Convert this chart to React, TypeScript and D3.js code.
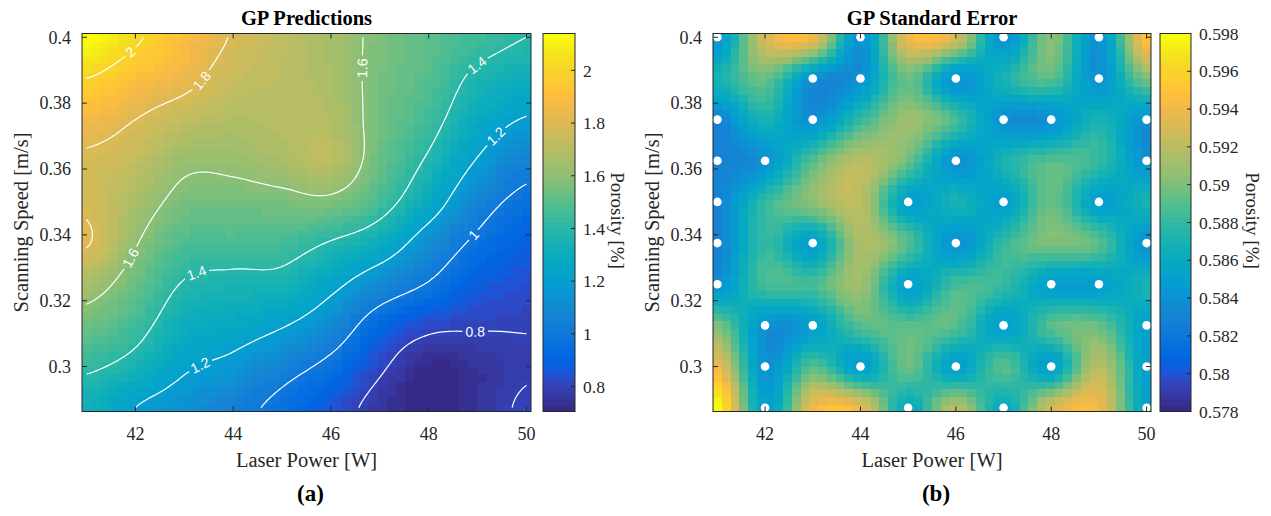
import React, { useMemo } from "react";
import * as d3 from "d3";

// ---------------- data ----------------
const laserPower = [41, 42, 43, 44, 45, 46, 47, 48, 49, 50];
// rows run from the top of the plot (0.4 m/s) down to 0.2875 m/s
const scanSpeedDesc = [0.4, 0.3875, 0.375, 0.3625, 0.35, 0.3375, 0.325, 0.3125, 0.3, 0.2875];

// GP predicted porosity [%]
const predRows = [
  [2.14, 2.02, 1.9, 1.79, 1.72, 1.66, 1.57, 1.51, 1.45, 1.4],
  [2.0, 1.91, 1.84, 1.74, 1.71, 1.67, 1.56, 1.49, 1.37, 1.31],
  [1.87, 1.8, 1.73, 1.69, 1.7, 1.69, 1.55, 1.45, 1.29, 1.19],
  [1.78, 1.73, 1.63, 1.63, 1.67, 1.71, 1.53, 1.38, 1.19, 1.06],
  [1.78, 1.67, 1.56, 1.55, 1.56, 1.57, 1.46, 1.28, 1.07, 0.96],
  [1.81, 1.61, 1.48, 1.47, 1.46, 1.39, 1.3, 1.12, 0.97, 0.89],
  [1.66, 1.53, 1.39, 1.36, 1.35, 1.24, 1.1, 0.99, 0.88, 0.84],
  [1.54, 1.45, 1.31, 1.27, 1.21, 1.1, 0.92, 0.83, 0.81, 0.805],
  [1.42, 1.35, 1.22, 1.16, 1.06, 0.96, 0.82, 0.72, 0.75, 0.79],
  [1.33, 1.2, 1.13, 1.05, 0.96, 0.86, 0.76, 0.705, 0.75, 0.815],
];

// GP standard error [%]
const stdRows = [
  [0.584, 0.593, 0.594, 0.584, 0.594, 0.593, 0.584, 0.5905, 0.584, 0.595],
  [0.587, 0.5895, 0.584, 0.584, 0.5895, 0.584, 0.587, 0.589, 0.584, 0.59],
  [0.583, 0.587, 0.584, 0.588, 0.591, 0.5885, 0.584, 0.584, 0.587, 0.584],
  [0.583, 0.584, 0.589, 0.592, 0.5895, 0.584, 0.587, 0.589, 0.588, 0.584],
  [0.583, 0.588, 0.5905, 0.592, 0.585, 0.587, 0.585, 0.5895, 0.585, 0.587],
  [0.583, 0.588, 0.585, 0.5915, 0.589, 0.584, 0.588, 0.590, 0.589, 0.584],
  [0.584, 0.5885, 0.5885, 0.591, 0.585, 0.5885, 0.588, 0.585, 0.585, 0.587],
  [0.59, 0.584, 0.585, 0.589, 0.589, 0.589, 0.585, 0.589, 0.5895, 0.585],
  [0.594, 0.584, 0.589, 0.585, 0.5895, 0.585, 0.589, 0.585, 0.592, 0.585],
  [0.598, 0.585, 0.594, 0.594, 0.586, 0.592, 0.586, 0.593, 0.594, 0.585],
];

// sampled design points [laser power, scanning speed]
const samplePoints = [
  [41, 0.4], [44, 0.4], [47, 0.4], [49, 0.4],
  [43, 0.3875], [44, 0.3875], [46, 0.3875], [49, 0.3875],
  [41, 0.375], [43, 0.375], [47, 0.375], [48, 0.375], [50, 0.375],
  [41, 0.3625], [42, 0.3625], [46, 0.3625], [50, 0.3625],
  [41, 0.35], [45, 0.35], [47, 0.35], [49, 0.35],
  [41, 0.3375], [43, 0.3375], [46, 0.3375], [50, 0.3375],
  [41, 0.325], [45, 0.325], [48, 0.325], [49, 0.325],
  [42, 0.3125], [43, 0.3125], [47, 0.3125], [50, 0.3125],
  [42, 0.3], [44, 0.3], [46, 0.3], [48, 0.3], [50, 0.3],
  [42, 0.2875], [45, 0.2875], [47, 0.2875], [50, 0.2875],
];

const predRange: [number, number] = [0.705, 2.14];
const stdRange: [number, number] = [0.578, 0.598];

const xTicks = [42, 44, 46, 48, 50];
const yTicks = [0.3, 0.32, 0.34, 0.36, 0.38, 0.4];
const predTicks = [0.8, 1, 1.2, 1.4, 1.6, 1.8, 2];
const stdTicks = [0.578, 0.58, 0.582, 0.584, 0.586, 0.588, 0.59, 0.592, 0.594, 0.596, 0.598];
const contourLevels = [0.8, 1, 1.2, 1.4, 1.6, 1.8, 2];
const contourLabels = [
  { level: 2, x: 41.91, y: 0.3954 },
  { level: 1.8, x: 43.36, y: 0.3873 },
  { level: 1.6, x: 46.45, y: 0.3908 },
  { level: 1.4, x: 49.05, y: 0.3908 },
  { level: 1.2, x: 49.37, y: 0.3696 },
  { level: 1, x: 48.92, y: 0.3404 },
  { level: 0.8, x: 48.92, y: 0.3119 },
  { level: 1.6, x: 41.95, y: 0.3328 },
  { level: 1.4, x: 43.24, y: 0.3274 },
  { level: 1.2, x: 43.28, y: 0.3006 },
];

// MATLAB parula (64 entries)
const PARULA = [
  [0.2081, 0.1663, 0.5292], [0.2116, 0.1898, 0.5777], [0.2123, 0.2138, 0.627], [0.2081, 0.2386, 0.6771],
  [0.1959, 0.2645, 0.7279], [0.1707, 0.2919, 0.7792], [0.1253, 0.3242, 0.8303], [0.0591, 0.3598, 0.8683],
  [0.0117, 0.3875, 0.882], [0.006, 0.4086, 0.8828], [0.0165, 0.4266, 0.8786], [0.0329, 0.443, 0.872],
  [0.0498, 0.4586, 0.8641], [0.0629, 0.4737, 0.8554], [0.0723, 0.4887, 0.8467], [0.0779, 0.504, 0.8384],
  [0.0793, 0.52, 0.8312], [0.0749, 0.5375, 0.8263], [0.0641, 0.557, 0.824], [0.0488, 0.5772, 0.8228],
  [0.0343, 0.5966, 0.8199], [0.0265, 0.6137, 0.8135], [0.0239, 0.6287, 0.8038], [0.0231, 0.6418, 0.7913],
  [0.0228, 0.6535, 0.7768], [0.0267, 0.6642, 0.7607], [0.0384, 0.6743, 0.7436], [0.059, 0.6838, 0.7254],
  [0.0843, 0.6928, 0.7062], [0.1133, 0.7015, 0.6859], [0.1453, 0.7098, 0.6646], [0.1801, 0.7177, 0.6424],
  [0.2178, 0.725, 0.6193], [0.2586, 0.7317, 0.5954], [0.3022, 0.7376, 0.5712], [0.3482, 0.7424, 0.5473],
  [0.3953, 0.7459, 0.5244], [0.442, 0.7481, 0.5033], [0.4871, 0.7491, 0.484], [0.53, 0.7491, 0.4661],
  [0.5709, 0.7485, 0.4494], [0.6099, 0.7473, 0.4337], [0.6473, 0.7456, 0.4188], [0.6834, 0.7435, 0.4044],
  [0.7184, 0.7411, 0.3905], [0.7525, 0.7384, 0.3768], [0.7858, 0.7356, 0.3633], [0.8185, 0.7327, 0.3498],
  [0.8507, 0.7299, 0.336], [0.8824, 0.7274, 0.3217], [0.9139, 0.7258, 0.3063], [0.945, 0.7261, 0.2886],
  [0.9739, 0.7314, 0.2666], [0.9938, 0.7455, 0.2403], [0.999, 0.7653, 0.2164], [0.9955, 0.7861, 0.1967],
  [0.988, 0.8066, 0.1794], [0.9789, 0.8271, 0.1633], [0.9697, 0.8481, 0.1475], [0.9626, 0.8705, 0.1309],
  [0.9589, 0.8949, 0.1132], [0.9598, 0.9218, 0.0948], [0.9661, 0.9514, 0.0755], [0.9763, 0.9831, 0.0538],
];

function parulaIdx(i: number) {
  const c = PARULA[Math.max(0, Math.min(63, i))];
  return d3.rgb(c[0] * 255, c[1] * 255, c[2] * 255).formatHex();
}

const fmt = (v: number) => String(+v.toFixed(4));

const TEXT = "#262626";
const SERIF = "'Liberation Serif','Times New Roman',Times,serif";
const SANS = "'Liberation Sans',Arial,Helvetica,sans-serif";

// smooth (Catmull-Rom) surface through the read grid values, used for rendering
function cr(p0: number, p1: number, p2: number, p3: number, t: number) {
  return 0.5 * (2 * p1 + (-p0 + p2) * t + (2 * p0 - 5 * p1 + 4 * p2 - p3) * t * t + (-p0 + 3 * p1 - 3 * p2 + p3) * t * t * t);
}

function makeSampler(rows: number[][]) {
  const nx = laserPower.length;
  const ny = scanSpeedDesc.length;
  const px = d3.scaleLinear().domain([laserPower[0], laserPower[nx - 1]]).range([0, nx - 1]);
  const py = d3.scaleLinear().domain([scanSpeedDesc[0], scanSpeedDesc[ny - 1]]).range([0, ny - 1]);
  const at = (j: number, i: number) => rows[Math.max(0, Math.min(ny - 1, j))][Math.max(0, Math.min(nx - 1, i))];
  return (x: number, y: number) => {
    const fx = Math.max(0, Math.min(nx - 1, px(x)));
    const fy = Math.max(0, Math.min(ny - 1, py(y)));
    const i0 = Math.min(nx - 2, Math.floor(fx));
    const j0 = Math.min(ny - 2, Math.floor(fy));
    const tx = fx - i0;
    const ty = fy - j0;
    const r = [-1, 0, 1, 2].map((dj) =>
      cr(at(j0 + dj, i0 - 1), at(j0 + dj, i0), at(j0 + dj, i0 + 1), at(j0 + dj, i0 + 2), tx)
    );
    return cr(r[0], r[1], r[2], r[3], ty);
  };
}

type Box = { x0: number; x1: number; y0: number; y1: number };

type PanelProps = {
  id: string;
  rows: number[][];
  range: [number, number];
  box: Box;
  cb: { x0: number; x1: number };
  cbTicks: number[];
  cbLabelX: number;
  title: string;
  letter: string;
  withContours?: boolean;
  withDots?: boolean;
};

function Panel(p: PanelProps) {
  const { box, range } = p;
  const N = 50;
  const xMin = d3.min(laserPower)!, xMax = d3.max(laserPower)!;
  const yMin = d3.min(scanSpeedDesc)!, yMax = d3.max(scanSpeedDesc)!;
  const sx = (xMax - xMin) / (N - 1);
  const sy = (yMax - yMin) / (N - 1);
  const xScale = d3.scaleLinear().domain([xMin - sx / 2, xMax + sx / 2]).range([box.x0, box.x1]);
  const yScale = d3.scaleLinear().domain([yMin - sy / 2, yMax + sy / 2]).range([box.y1, box.y0]);
  const sample = useMemo(() => makeSampler(p.rows), [p.rows]);
  const colorIndex = (v: number) => Math.floor(((v - range[0]) / (range[1] - range[0])) * 64);

  const cells = useMemo(() => {
    const out: { x: number; y: number; w: number; h: number; c: string }[] = [];
    for (let i = 0; i < N; i++) {
      for (let j = 0; j < N; j++) {
        const xc = xMin + i * sx;
        const yc = yMin + j * sy;
        const v = sample(xc, yc);
        const xa = xScale(xc - sx / 2), xb = xScale(xc + sx / 2);
        const ya = yScale(yc + sy / 2), yb = yScale(yc - sy / 2);
        out.push({ x: xa, y: ya, w: xb - xa + 0.6, h: yb - ya + 0.6, c: parulaIdx(colorIndex(v)) });
      }
    }
    return out;
  }, [p.rows]);

  const contourData = useMemo(() => {
    if (!p.withContours) return { lines: [] as { level: number; pts: [number, number][] }[], labels: [] as any[] };
    const M = 121;
    const gx = (xMax - xMin) / (M - 1);
    const gy = (yMax - yMin) / (M - 1);
    const values = new Array(M * M);
    for (let j = 0; j < M; j++) for (let i = 0; i < M; i++) values[j * M + i] = sample(xMin + i * gx, yMax - j * gy);
    const toPx = (c: number[]): [number, number] => [
      xScale(xMin + (c[0] - 0.5) * gx),
      yScale(yMax - (c[1] - 0.5) * gy),
    ];
    const onB = (c: number[]) => c[0] <= 0 || c[0] >= M || c[1] <= 0 || c[1] >= M;
    const lines: { level: number; pts: [number, number][] }[] = [];
    const gen = d3.contours().size([M, M]).thresholds(contourLevels);
    const polys = gen(values);
    polys.forEach((mp) => {
      const level = mp.value;
      for (const poly of mp.coordinates) {
        for (const ring of poly) {
          const n = ring.length - 1;
          const pts = ring.slice(0, n);
          const dropped = (k: number) => onB(pts[k]) || onB(pts[(k + 1) % n]);
          let start = -1;
          for (let k = 0; k < n; k++) if (dropped(k)) { start = k; break; }
          if (start < 0) {
            lines.push({ level, pts: [...pts, pts[0]].map(toPx) });
            continue;
          }
          let cur: number[][] = [];
          for (let s = 0; s < n; s++) {
            const k = (start + s) % n;
            if (dropped(k)) {
              if (cur.length > 1) lines.push({ level, pts: cur.map(toPx) });
              cur = [];
            } else {
              if (cur.length === 0) cur.push(pts[k]);
              cur.push(pts[(k + 1) % n]);
            }
          }
          if (cur.length > 1) lines.push({ level, pts: cur.map(toPx) });
        }
      }
    });
    const labels = contourLabels.map((l) => {
      const tx = xScale(l.x), ty = yScale(l.y);
      let best = { d: Infinity, line: null as any, idx: 0 };
      lines.filter((ln) => Math.abs(ln.level - l.level) < 1e-9).forEach((ln) => {
        ln.pts.forEach((pt, idx) => {
          const d = (pt[0] - tx) ** 2 + (pt[1] - ty) ** 2;
          if (d < best.d) best = { d, line: ln, idx };
        });
      });
      if (!best.line) return null;
      const pts = best.line.pts;
      const a = pts[Math.max(0, best.idx - 3)], b = pts[Math.min(pts.length - 1, best.idx + 3)];
      let ang = (Math.atan2(b[1] - a[1], b[0] - a[0]) * 180) / Math.PI;
      if (ang > 90) ang -= 180;
      if (ang <= -90) ang += 180;
      const text = fmt(l.level);
      const w = text.split("").reduce((s, ch) => s + (ch === "." ? 3.9 : 7.8), 0);
      return { x: pts[best.idx][0], y: pts[best.idx][1], ang, text, w };
    }).filter(Boolean);
    return { lines, labels };
  }, [p.rows, p.withContours]);

  const cbScale = d3.scaleLinear().domain(range).range([box.y1, box.y0]);
  const cbBands = d3.range(64).map((k) => {
    const v0 = range[0] + ((range[1] - range[0]) * k) / 64;
    const v1 = range[0] + ((range[1] - range[0]) * (k + 1)) / 64;
    return { y: cbScale(v1), h: cbScale(v0) - cbScale(v1) + 0.5, c: parulaIdx(k) };
  });

  const cx = (box.x0 + box.x1) / 2;
  const cy = (box.y0 + box.y1) / 2;
  const line = d3.line().curve(d3.curveLinear);
  const T = 5;

  return (
    <g>
      <defs>
        <clipPath id={`clip-${p.id}`}>
          <rect x={box.x0} y={box.y0} width={box.x1 - box.x0} height={box.y1 - box.y0} />
        </clipPath>
        {p.withContours && (
          <mask id={`mask-${p.id}`} maskUnits="userSpaceOnUse" x={0} y={0} width={1271} height={516}>
            <rect x={0} y={0} width={1271} height={516} fill="white" />
            {contourData.labels.map((l: any, k: number) => (
              <rect key={k} x={-l.w / 2 - 3} y={-7.5} width={l.w + 6} height={15} fill="black"
                transform={`translate(${l.x},${l.y}) rotate(${l.ang})`} />
            ))}
          </mask>
        )}
      </defs>
      <g clipPath={`url(#clip-${p.id})`}>
        <g shapeRendering="crispEdges">
          {cells.map((c, k) => (
            <rect key={k} x={c.x} y={c.y} width={c.w} height={c.h} fill={c.c} />
          ))}
        </g>
        {p.withContours && (
          <g mask={`url(#mask-${p.id})`}>
            {contourData.lines.map((ln, k) => (
              <path key={k} d={line(ln.pts) || ""} fill="none" stroke="white" strokeWidth={1.2} />
            ))}
          </g>
        )}
        {p.withContours && contourData.labels.map((l: any, k: number) => (
          <text key={k} transform={`translate(${l.x},${l.y}) rotate(${l.ang})`} textAnchor="middle" dy="0.36em"
            fill="white" fontFamily={SANS} fontSize={14}>{l.text}</text>
        ))}
        {p.withDots && samplePoints.map((d, k) => (
          <circle key={k} cx={xScale(d[0])} cy={yScale(d[1])} r={4.3} fill="white" />
        ))}
      </g>
      {/* axes box and ticks */}
      <rect x={box.x0} y={box.y0} width={box.x1 - box.x0} height={box.y1 - box.y0} fill="none" stroke={TEXT} strokeWidth={1} />
      {xTicks.map((t) => (
        <g key={`xt${t}`}>
          <line x1={xScale(t)} x2={xScale(t)} y1={box.y1} y2={box.y1 - T} stroke={TEXT} />
          <line x1={xScale(t)} x2={xScale(t)} y1={box.y0} y2={box.y0 + T} stroke={TEXT} />
          <text x={xScale(t)} y={box.y1 + 28} textAnchor="middle" fontSize={18} fill={TEXT}>{fmt(t)}</text>
        </g>
      ))}
      {yTicks.map((t) => (
        <g key={`yt${t}`}>
          <line x1={box.x0} x2={box.x0 + T} y1={yScale(t)} y2={yScale(t)} stroke={TEXT} />
          <line x1={box.x1} x2={box.x1 - T} y1={yScale(t)} y2={yScale(t)} stroke={TEXT} />
          <text x={box.x0 - 11} y={yScale(t)} dy="0.35em" textAnchor="end" fontSize={18} fill={TEXT}>{fmt(t)}</text>
        </g>
      ))}
      <text x={cx} y={25} textAnchor="middle" fontSize={20.5} fontWeight="bold" fill="#000">{p.title}</text>
      <text x={cx} y={467} textAnchor="middle" fontSize={20.5} fill={TEXT}>Laser Power [W]</text>
      <text transform={`translate(${box.x0 - 61},${cy}) rotate(-90)`} textAnchor="middle" dy="0.35em" fontSize={20.5} fill={TEXT}>
        Scanning Speed [m/s]
      </text>
      <text x={cx + 4} y={501} textAnchor="middle" fontSize={23} fontWeight="bold" fill="#000">{p.letter}</text>
      {/* colorbar */}
      <g shapeRendering="crispEdges">
        {cbBands.map((b, k) => (
          <rect key={k} x={p.cb.x0} y={b.y} width={p.cb.x1 - p.cb.x0} height={b.h} fill={b.c} />
        ))}
      </g>
      <rect x={p.cb.x0} y={box.y0} width={p.cb.x1 - p.cb.x0} height={box.y1 - box.y0} fill="none" stroke={TEXT} strokeWidth={1} />
      {p.cbTicks.map((t) => (
        <g key={`ct${t}`}>
          <line x1={p.cb.x1} x2={p.cb.x1 - 4} y1={cbScale(t)} y2={cbScale(t)} stroke={TEXT} />
          <text x={p.cb.x1 + 8} y={cbScale(t)} dy="0.35em" fontSize={17.5} fill={TEXT}>{fmt(t)}</text>
        </g>
      ))}
      <text transform={`translate(${p.cbLabelX},${cy - 2}) rotate(90)`} textAnchor="middle" dy="0.35em" fontSize={19} fill={TEXT}>
        Porosity [%]
      </text>
    </g>
  );
}

export default function App() {
  return (
    <svg width={1271} height={516} style={{ position: "absolute", left: 0, top: 0, background: "#fff" }} fontFamily={SERIF}>
      <rect x={0} y={0} width={1271} height={516} fill="#fff" />
      <Panel id="a" rows={predRows} range={predRange} box={{ x0: 82, x1: 531, y0: 33.5, y1: 411.5 }}
        cb={{ x0: 543, x1: 575 }} cbTicks={predTicks} cbLabelX={618} title="GP Predictions" letter="(a)" withContours />
      <Panel id="b" rows={stdRows} range={stdRange} box={{ x0: 713, x1: 1151, y0: 33.5, y1: 411.5 }}
        cb={{ x0: 1160, x1: 1191 }} cbTicks={stdTicks} cbLabelX={1253} title="GP Standard Error" letter="(b)" withDots />
    </svg>
  );
}
